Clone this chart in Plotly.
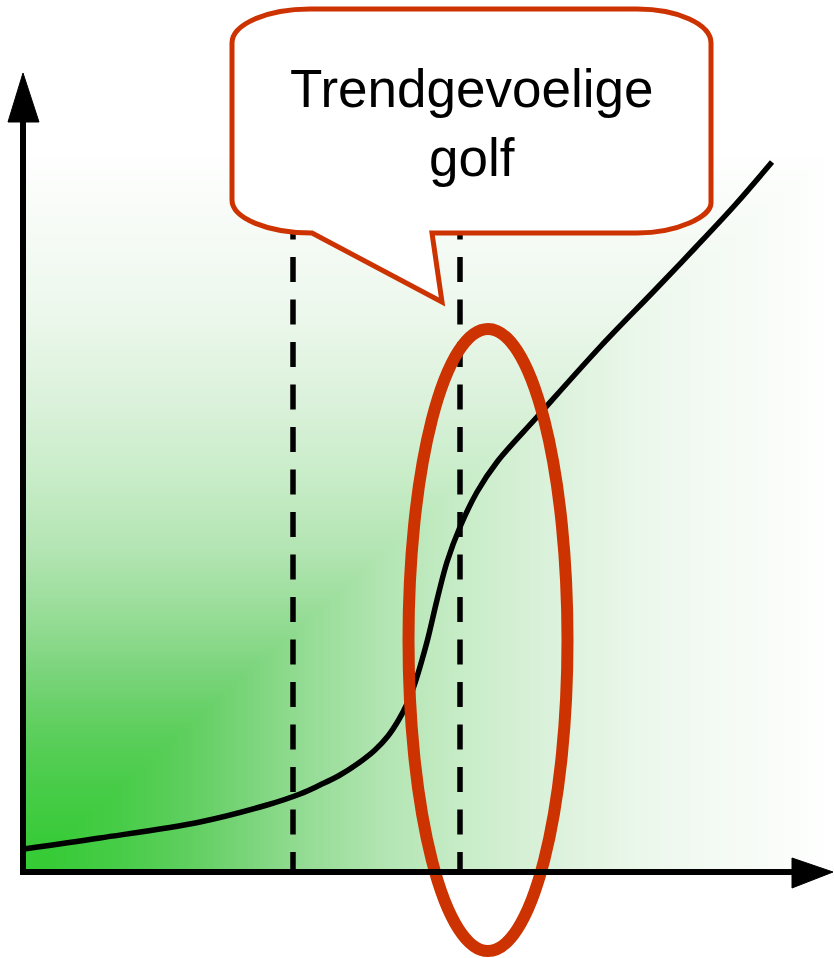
import numpy as np
import plotly.graph_objects as go

# ---- data (chart units: origin at the axes corner) ----
curve_x = [1, 77, 177, 244, 277, 297, 317, 337, 352, 365, 375, 384, 392, 399, 405, 414, 424, 437, 454, 474, 514, 577, 632, 672, 712, 749]
curve_y = [23, 34, 50, 67, 78, 87, 97, 110, 122, 136, 151, 168, 189, 212, 234, 272, 310, 345, 380, 410, 455, 525, 582, 624, 667, 710]
dashed_x = [270, 437]
label_text = "Trendgevoelige<br>golf"

RED = "#CC3300"

fig = go.Figure()

# background gradient (style only)
gx = np.linspace(0, 811, 204)
gy = np.linspace(0, 725, 182)
GX, GY = np.meshgrid(gx, gy)
Z = np.maximum(GX / 811.0, GY / 725.0)
cscale = [
    [0.00, "#33CC33"], [0.05, "#3ACB3A"], [0.12, "#48CC48"], [0.20, "#5ECF5E"],
    [0.27, "#78D478"], [0.34, "#92DB92"], [0.45, "#B4E5B4"], [0.55, "#C9EDC9"],
    [0.65, "#DBF1DB"], [0.78, "#EDF8ED"], [0.90, "#F7FBF7"], [1.00, "#FFFFFF"],
]
fig.add_trace(go.Heatmap(x=gx, y=gy, z=Z, colorscale=cscale, zmin=0, zmax=1,
                         zsmooth="best", showscale=False, hoverinfo="skip"))

# dashed verticals
for dx in dashed_x:
    fig.add_trace(go.Scatter(x=[dx, dx], y=[657.5, 0], mode="lines",
                             line=dict(color="black", width=5.5, dash="25px,17.5px"),
                             hoverinfo="skip", showlegend=False))

# curve
fig.add_trace(go.Scatter(x=curve_x, y=curve_y, mode="lines",
                         line=dict(color="black", width=5.5, shape="spline", smoothing=1.0),
                         hoverinfo="skip", showlegend=False))

shapes = []
# ellipse
shapes.append(dict(type="circle", xref="x", yref="y", x0=385.5, x1=544.5, y0=-79, y1=543,
                   line=dict(color=RED, width=12), layer="above"))
# callout
k = 0.552
callout = (
    f"M 289,639 L 419,570 L 409,639 L 614,639 "
    f"C {614+k*74},639 688,{639+k*30} 688,669 "
    f"L 688,829 "
    f"C 688,{829+k*34} {614+k*74},863 614,863 "
    f"L 287,863 "
    f"C {287-k*78},863 209,{829+k*34} 209,829 "
    f"L 209,672 "
    f"C 209,{672-k*33} {289-k*80},639 289,639 Z"
)
shapes.append(dict(type="path", path=callout, xref="x", yref="y", fillcolor="white",
                   line=dict(color=RED, width=5), layer="above"))
# axes
shapes.append(dict(type="line", xref="x", yref="y", x0=0, y0=-3, x1=0, y1=752,
                   line=dict(color="black", width=6), layer="above"))
shapes.append(dict(type="line", xref="x", yref="y", x0=-3, y0=0, x1=771, y1=0,
                   line=dict(color="black", width=6), layer="above"))
shapes.append(dict(type="path", path="M -15,750 L 16,750 L 0,799 Z", xref="x", yref="y",
                   fillcolor="black", line=dict(color="black", width=1), layer="above"))
shapes.append(dict(type="path", path="M 769,14 L 769,-16 L 810,0 Z", xref="x", yref="y",
                   fillcolor="black", line=dict(color="black", width=1), layer="above"))

fig.update_layout(
    width=834, height=958, margin=dict(l=0, r=0, t=0, b=0),
    paper_bgcolor="white", plot_bgcolor="white", showlegend=False,
    shapes=shapes,
    xaxis=dict(range=[-23, 811], visible=False, fixedrange=True),
    yaxis=dict(range=[-86, 872], visible=False, fixedrange=True),
    annotations=[dict(x=448, y=749, xref="x", yref="y", text=label_text, showarrow=False,
                      font=dict(family="Liberation Sans, Arial, sans-serif", size=53, color="black"),
                      xanchor="center", yanchor="middle", align="center")],
)

fig.write_html("out.html", config={"displayModeBar": False},
               post_script="document.body.style.margin='0';document.body.style.overflow='hidden';")
